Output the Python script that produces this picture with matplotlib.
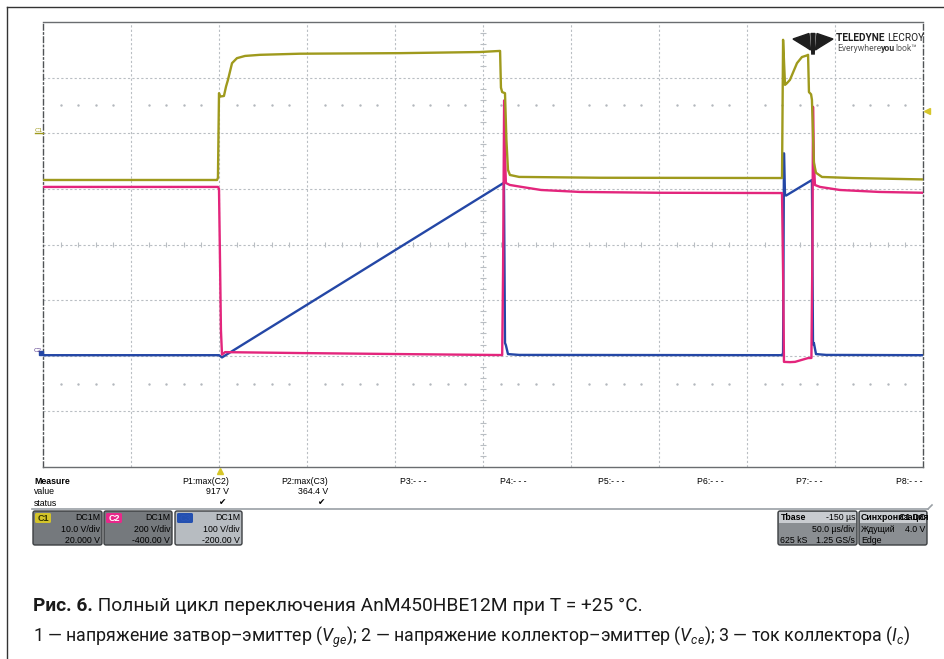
# Oscilloscope screenshot: full switching cycle of AnM450HBE12M at T = +25 C.

import matplotlib
matplotlib.use("Agg")
import matplotlib.pyplot as plt
import numpy as np
from matplotlib import font_manager as fm
from matplotlib.patches import FancyBboxPatch, Rectangle, Polygon

# ---- channel traces: time in us, values in V (C3 is the current probe output)
c1_t = [-100, -1.1, -0.6, 0.0, 0.6, 2.8, 4.0, 5.1, 7.4, 10.2, 14.8, 23.3, 46, 103, 148, 159.7,
        160.2, 160.9, 162.5, 163.3, 164.2, 165.3, 170.5, 216.5, 319.9,
        320.5, 321.6, 322.7, 324.4, 328.4, 331.2, 334.1, 334.7, 335.2, 336.4, 336.9,
        338.0, 339.2, 342.6, 360, 400]
c1_v = [-8.4, -8.4, -8.0, 7.2, 6.6, 6.7, 8.4, 9.6, 12.6, 13.5, 13.9, 14.1, 14.3, 14.4, 14.6, 14.8,
        8.2, 7.4, 7.2, -1.2, -6.6, -7.5, -7.85, -8.0, -8.05,
        16.8, 8.7, 9.0, 9.6, 12.6, 13.7, 14.0, 14.1, 7.4, 7.0, 6.0,
        -5.3, -7.1, -7.86, -8.05, -8.3]

c2_t = [-100, -0.6, 0.0, 0.6, 1.1, 1.7, 3.4, 46, 103, 160.9,
        161.4, 162.0, 162.6, 163.0, 165.3, 172.0, 183, 205, 250, 319.9,
        320.5, 321.0, 324.4, 327.3, 334.7, 336.6,
        337.2, 337.5, 338.0, 338.6, 341.5, 352.8, 375, 400]
c2_v = [607, 607, 600, 330, 92, 4, 13, 9.7, 6, 2.5,
        300, 918, 700, 621, 614, 607, 596, 589, 586, 585,
        300, -22, -23, -22, -8.3, -8,
        400, 895, 700, 614, 607, 596, 589, 586]

c3_t = [-100, 0.0, 1.7, 161.9, 162.5, 163.0, 164.2, 170.5, 319.9,
        320.5, 321.0, 321.6, 322.2, 336.9, 337.5, 338.0, 339.2, 345, 400]
c3_v = [1, 1, -3, 311, 23, 19, 3, 1.5, 1,
        5, 364, 289, 288, 316, 20, 23, 3, 1.5, 1]

# channel setup: name, V/div, offset, colour
ch_names = ["C1", "C2", "C3"]
ch_scale = [10.0, 200.0, 100.0]
ch_offset = [20.0, -400.0, -200.0]
ch_colors = ["#9f9a1d", "#e3257c", "#2447a6"]
ch_coupling = ["DC1M", "DC1M", "DC1M"]
ch_vdiv = ["10.0 V/div", "200 V/div", "100 V/div"]
ch_ofs_txt = ["20.000 V", "-400.00 V", "-200.00 V"]

# measurements
p_labels = ["P1:max(C2)", "P2:max(C3)", "P3:- - -", "P4:- - -", "P5:- - -", "P6:- - -", "P7:- - -", "P8:- - -"]
p_values = ["917 V", "364.4 V", "", "", "", "", "", ""]
p_status = [True, True, False, False, False, False, False, False]

t_start, t_end = -100, 400   # 50 us/div, 10 div

caption1_bold = "Рис. 6."
caption1 = " Полный цикл переключения AnM450HBE12M при T = +25 °C."
caption2 = ("1 — напряжение затвор–эмиттер ($V_{ge}$); 2 — напряжение коллектор–эмиттер ($V_{ce}$); "
            "3 — ток коллектора ($I_c$)")

names = {f.name for f in fm.fontManager.ttflist}
CAP_FONT = "Liberation Sans Narrow" if "Liberation Sans Narrow" in names else "Roboto"
UI_FONT = "Liberation Sans"
plt.rcParams["mathtext.fontset"] = "custom"
plt.rcParams["mathtext.rm"] = CAP_FONT
plt.rcParams["mathtext.it"] = CAP_FONT + ":italic"

W, H = 944, 659
fig = plt.figure(figsize=(W / 100, H / 100), dpi=100)
fig.patch.set_facecolor("white")
renderer = fig.canvas.get_renderer()

gx0, gx1, gy0, gy1 = 43, 923, 22, 467
rect = [gx0 / W, 1 - gy1 / H, (gx1 - gx0) / W, (gy1 - gy0) / H]

# ---- graticule
ax = fig.add_axes(rect)
ax.set_xlim(0, 10)
ax.set_ylim(-4, 4)
ax.set_xticks([])
ax.set_yticks([])
grid_c = "#b9bec3"
for i in range(1, 10):
    ax.axvline(i, color=grid_c, lw=0.8, ls=(0, (2, 2)), zorder=0)
for j in range(-3, 4):
    ax.axhline(j, color=grid_c, lw=0.8, ls=(0, (2, 2)), zorder=0)
minor = np.arange(0.2, 10, 0.2)
minor = minor[np.abs(minor - np.round(minor)) > 1e-6]
ax.vlines(minor, -0.05, 0.05, color=grid_c, lw=0.8, zorder=0)
minor_y = np.arange(-3.8, 4, 0.2)
minor_y = minor_y[np.abs(minor_y - np.round(minor_y)) > 1e-6]
ax.hlines(minor_y, 4.97, 5.03, color=grid_c, lw=0.8, zorder=0)
for yy in (2.5, -2.5):
    ax.plot(minor, np.full_like(minor, yy), ls="none", marker="s", ms=0.7, color="#b3b8bd", zorder=0)
for side in ("top", "bottom"):
    ax.spines[side].set_color("#6a6d70")
    ax.spines[side].set_linewidth(1.0)
for side in ("left", "right"):
    ax.spines[side].set_color("#505356")
    ax.spines[side].set_linewidth(1.0)
    ax.spines[side].set_linestyle((0, (4, 2, 1, 2)))

# ---- traces, one axes per channel with its own V/div and offset
traces = [(c1_t, c1_v), (c2_t, c2_v), (c3_t, c3_v)]
for k in (2, 1, 0):
    a = fig.add_axes(rect)
    a.set_xlim(t_start, t_end)
    a.set_ylim(-4 * ch_scale[k] - ch_offset[k], 4 * ch_scale[k] - ch_offset[k])
    a.axis("off")
    a.plot(traces[k][0], traces[k][1], color=ch_colors[k], lw=1.7, solid_joinstyle="round")

# ---- overlay in pixel coordinates
ov = fig.add_axes([0, 0, 1, 1])
ov.set_xlim(0, W)
ov.set_ylim(H, 0)
ov.axis("off")


def chain(x, y, parts, **kw):
    """Draw text pieces one after another from x, return the end x."""
    for s, extra in parts:
        t = ov.text(x, y, s, va="center", **kw, **extra)
        x += t.get_window_extent(renderer).width
    return x


# outer frame (top and left)
ov.plot([7, W], [7, 7], color="#333333", lw=1.0)
ov.plot([7, 7], [7, H], color="#333333", lw=1.0)

# ground markers and trigger markers
ov.text(39, 130, "C1", fontsize=4.5, color=ch_colors[0], ha="center", va="center", family=UI_FONT)
ov.plot([35, 43], [133, 133], color=ch_colors[0], lw=1.0)
ov.text(38, 351, "C2", fontsize=4.5, color="#5a3c8c", ha="center", va="center", family=UI_FONT)
ov.add_patch(Rectangle((39, 351), 4, 4, color=ch_colors[2]))
ov.plot([220], [471], marker="^", ms=5, color="#d6c62a", ls="none")
ov.plot([927], [111], marker="<", ms=5, color="#d6c62a", ls="none")

# logo
logo_c = "#1e1e1e"
ov.add_patch(Polygon([(793, 39), (809, 33.5), (810.5, 50), (806, 47)], color=logo_c))
ov.add_patch(Polygon([(833, 39), (817, 33.5), (815.5, 50), (820, 47)], color=logo_c))
ov.add_patch(Polygon([(811, 33.5), (815, 33.5), (814.2, 54), (811.8, 54)], color=logo_c))
chain(836, 38, [("TELEDYNE ", {"weight": "bold"}), ("LECROY", {})],
      fontsize=7.3, color=logo_c, family=CAP_FONT)
chain(837, 48.5, [("Everywhere", {"color": "#555555"}), ("you", {"weight": "bold", "color": "#333333"}),
                  ("look\u2122", {"color": "#555555"})], fontsize=6.2, family=CAP_FONT)

# measurement table
fs = 6.3
ov.text(34, 481, "Measure", fontsize=fs, weight="bold", va="center", family=UI_FONT)
ov.text(34, 492, "value", fontsize=fs, va="center", family=UI_FONT)
ov.text(34, 503, "status", fontsize=fs, va="center", family=UI_FONT)
for k, lab in enumerate(p_labels):
    xr = 229 + k * 99
    ov.text(xr, 481, lab, fontsize=fs, ha="right", va="center", family=UI_FONT)
    ov.text(xr, 492, p_values[k], fontsize=fs, ha="right", va="center", family=UI_FONT)
    if p_status[k]:
        ov.text(xr - 3, 503, "\u2714", fontsize=fs, ha="right", va="center", family="DejaVu Sans")
ov.plot([32, 928], [509, 509], color="#9aa0a5", lw=1.2)
ov.plot([928, 932], [509, 505], color="#9aa0a5", lw=1.2)

# channel descriptor boxes
box_x = [(33, 102), (104, 172), (175, 242)]
box_fill = ["#75797d", "#75797d", "#b7bcc1"]
tag_fill = ["#d3c42a", "#e8288a", "#2450b0"]
tag_text = ["#333300", "white", "#2a55b8"]
for k in range(3):
    x0, x1 = box_x[k]
    ov.add_patch(FancyBboxPatch((x0, 511), x1 - x0, 34, boxstyle="round,pad=0,rounding_size=2",
                                fc=box_fill[k], ec="#3c3f42", lw=1.0))
    ov.add_patch(FancyBboxPatch((x0 + 2, 513), 16, 10, boxstyle="round,pad=0,rounding_size=1.5",
                                fc=tag_fill[k], ec="none"))
    ov.text(x0 + 10, 518.5, ch_names[k], fontsize=6.5, weight="bold", color=tag_text[k],
            ha="center", va="center", family=UI_FONT)
    ov.text(x1 - 2, 518, ch_coupling[k], fontsize=fs, ha="right", va="center", family=UI_FONT)
    ov.text(x1 - 2, 530, ch_vdiv[k], fontsize=fs, ha="right", va="center", family=UI_FONT)
    ov.text(x1 - 2, 540.5, ch_ofs_txt[k], fontsize=fs, ha="right", va="center", family=UI_FONT)

# timebase and trigger boxes
for x0, x1 in ((778, 857), (859, 927)):
    ov.add_patch(FancyBboxPatch((x0, 511), x1 - x0, 34, boxstyle="round,pad=0,rounding_size=2",
                                fc="#8a8e92", ec="#3c3f42", lw=1.0))
    ov.add_patch(Rectangle((x0 + 1, 512), x1 - x0 - 2, 11, fc="#c9ccd0", ec="none"))
ov.text(781, 517.5, "Tbase", fontsize=fs, weight="bold", va="center", family=UI_FONT)
ov.text(855, 517.5, "-150 µs", fontsize=fs, ha="right", va="center", family=UI_FONT)
ov.text(855, 530, "50.0 µs/div", fontsize=fs, ha="right", va="center", family=UI_FONT)
ov.text(780, 540.5, "625 kS", fontsize=fs, va="center", family=UI_FONT)
ov.text(855, 540.5, "1.25 GS/s", fontsize=fs, ha="right", va="center", family=UI_FONT)
# the scope draws the trigger title over the source text
ov.text(861, 517.5, "Синхронизация", fontsize=fs, weight="bold", va="center", family=UI_FONT)
ov.text(925, 517.5, "C1 DC", fontsize=fs, weight="bold", ha="right", va="center", family=UI_FONT)
ov.text(861, 530, "Ждущий", fontsize=fs, va="center", family=UI_FONT)
ov.text(925, 530, "4.0 V", fontsize=fs, ha="right", va="center", family=UI_FONT)
ov.text(861, 540.5, "Edge", fontsize=fs, va="center", family=UI_FONT)

# caption
chain(33, 606, [(caption1_bold, {"weight": "bold"}), (caption1, {})],
      fontsize=13.8, family=CAP_FONT, color="#1a1a1a")
ov.text(33, 637, caption2, fontsize=12.8, va="center", family=CAP_FONT, color="#1a1a1a")

fig.savefig("out.png", dpi=100)
